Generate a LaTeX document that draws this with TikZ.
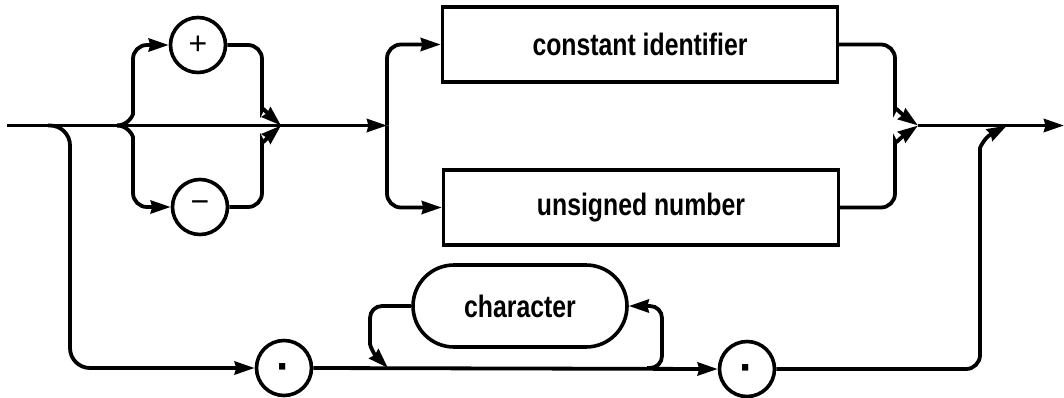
\documentclass[tikz,border=0pt]{standalone}
\usepackage{fontspec}
\setmainfont{Liberation Sans}
\newfontfamily\labfont[FakeStretch=0.8]{Liberation Sans}
\usetikzlibrary{arrows.meta,shapes.misc,calc}
\begin{document}
\begin{tikzpicture}[x=1pt,y=-1pt,
  conn/.style={line width=3.8pt, rounded corners=14pt},
  arr/.style={-{Stealth[length=20pt,width=13pt,inset=1.5pt]}},
  term/.style={circle, draw, line width=3.6pt, minimum size=55pt, inner sep=0pt,
    font=\fontsize{32}{34}\selectfont},
  dotterm/.style={term, font=\fontsize{44}{44}\selectfont\bfseries},
  nonterm/.style={rectangle, draw, line width=3.4pt, minimum width=395pt,
    minimum height=75pt, inner sep=0pt, font=\labfont\fontsize{31}{34}\selectfont\bfseries},
  pill/.style={rounded rectangle, draw, line width=3.6pt, minimum width=214pt,
    minimum height=82pt, inner sep=0pt, font=\labfont\fontsize{31}{34}\selectfont\bfseries}]
\useasboundingbox (0,0) rectangle (1064,397);

% nodes
\node[term] (plus) at (198,45) {+};
\node[term] (minus) at (200,207) {−};
\node[nonterm] (cid) at (640,44.5) {constant identifier};
\node[nonterm] (unum) at (641,207.5) {unsigned number};
\node[dotterm] (q1) at (284,368) {\smash{\raisebox{-13pt}{·}}};
\node[dotterm] (q2) at (747,369) {\smash{\raisebox{-13pt}{·}}};
\node[pill] (char) at (520,306) {character};

% junction points
\coordinate (start) at (7,125.5);
\coordinate (bd) at (48,125.5);
\coordinate (s1) at (117,125.5);
\coordinate (j1) at (281,125.5);
\coordinate (s2) at (387,125.5);
\coordinate (j2) at (918,125.5);
\coordinate (j3) at (1007,125.5);
\coordinate (end) at (1064,125.5);
\coordinate (lj) at (388,368);
\coordinate (lr) at (647,368);

% main line
\draw[conn] (start) -- (s1);
\draw[conn,line width=2.8pt] (s1) -- (j1);
\draw[conn,arr] (j1) -- (s2);
\draw[conn,arr] (j2) -- (end);

% sign braces
\draw[conn,arr] (s1) .. controls (128,125.5) and (133,115) .. (133,100) -- (133,45) -- (plus.west);
\draw[conn,arr] (s1) .. controls (128,125.5) and (133,136) .. (133,151) -- (133,207) -- (minus.west);
\draw[conn,arr] (plus.east) -| (262,96) .. controls (262,106) and (266,112) .. (j1);
\draw[conn,arr] (minus.east) -| (262,155) .. controls (262,145) and (266,139) .. (j1);

% identifier / number braces
\draw[conn,arr] (s2) |- (cid.west);
\draw[conn,arr] (s2) |- (unum.west);
\draw[conn,arr] (cid.east) -| (895,96) .. controls (895,106) and (899,112) .. (j2);
\draw[conn,arr] (unum.east) -| (895,155) .. controls (895,145) and (899,139) .. (j2);

% string path
\draw[conn,arr,rounded corners=20pt] (bd) -| (70,368) -- (q1.west);
\draw[conn,arr] (q1.east) -- (q2.west);
\draw[conn,arr,rounded corners=12pt] (char.west) -| (370,332) .. controls (370,346) and (374,354) .. (lj);
\draw[conn,arr,rounded corners=12pt] (lr) -| (662,306) -- (char.east);
\draw[conn,arr] (q2.east) -| (980,162) .. controls (980,148) and (984,138) .. (j3);
\end{tikzpicture}
\end{document}
